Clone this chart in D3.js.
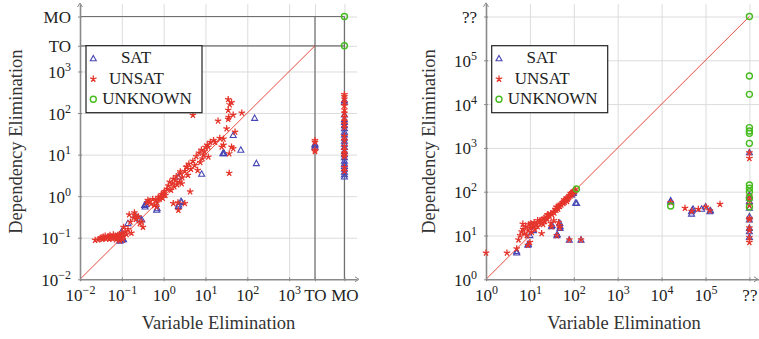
<!DOCTYPE html>
<html>
<head>
<meta charset="utf-8">
<script src="https://cdn.jsdelivr.net/npm/d3@7"></script>
<style>
  body { margin: 0; background: #fff; }
</style>
</head>
<body>
<div id="chart"></div>
<script>
// placeholder values for timeout / memout / unknown runs
var TO = 4150, MO = 21000, UNK = 1e6;

// ---- left plot: run time (s), [variable elimination, dependency elimination]
var leftSat = [
  [0.09, 0.083], [0.1, 0.088], [0.105, 0.095], [0.11, 0.09], [0.099, 0.14], [0.1, 0.12],
  [0.14, 0.22], [0.21, 0.34], [0.27, 0.28], [0.3, 0.27], [0.35, 0.6], [0.36, 0.55],
  [0.37, 0.63], [0.68, 0.46], [0.7, 0.5], [2.25, 0.57], [2.3, 0.62], [2.7, 0.71],
  [2.6, 0.75], [2.25, 2.9], [8.1, 3.4], [26, 10.5], [27, 10.8], [28, 10.6], [46, 29],
  [70, 12.8], [150, 75], [165, 6.1],
  [TO, 15], [TO, 16.5], [TO, 18],
  [MO, 2.9], [MO, 3.3], [MO, 3.8], [MO, 4.5], [MO, 5.2], [MO, 6], [MO, 7], [MO, 8.5],
  [MO, 10], [MO, 12], [MO, 15], [MO, 18], [MO, 21], [MO, 25], [MO, 30], [MO, 35],
  [MO, 42], [MO, 50], [MO, 60], [MO, 70], [MO, 90], [MO, 180], [MO, 200]
];
var leftUnsat = [
  [0.023, 0.088], [0.027, 0.09], [0.03, 0.095], [0.032, 0.1], [0.034, 0.092], [0.036, 0.105],
  [0.038, 0.098], [0.04, 0.11], [0.042, 0.095], [0.045, 0.1], [0.047, 0.108], [0.05, 0.092],
  [0.052, 0.115], [0.055, 0.1], [0.058, 0.105], [0.06, 0.095], [0.063, 0.118], [0.066, 0.1],
  [0.07, 0.11], [0.073, 0.09], [0.076, 0.105], [0.08, 0.115], [0.085, 0.095], [0.088, 0.12],
  [0.09, 0.085], [0.095, 0.1], [0.1, 0.13], [0.105, 0.09], [0.11, 0.11], [0.12, 0.14],
  [0.11, 0.18], [0.13, 0.12], [0.14, 0.16], [0.15, 0.36], [0.16, 0.24], [0.17, 0.13],
  [0.2, 0.4], [0.21, 0.35], [0.22, 0.28], [0.25, 0.32], [0.27, 0.22], [0.3, 0.24],
  [0.32, 0.18], [0.19, 0.3],
  [0.4, 0.7], [0.42, 0.8], [0.45, 0.75], [0.5, 0.65], [0.55, 0.85], [0.6, 0.6],
  [0.65, 0.8], [0.7, 0.7], [0.68, 0.55], [0.75, 0.95], [0.8, 0.85], [0.85, 1.0],
  [0.9, 1.1], [0.95, 0.9],
  [1.0, 1.2], [1.05, 1.3], [1.1, 1.05], [1.2, 1.5], [1.3, 1.8], [1.4, 2.2], [1.5, 1.4],
  [1.6, 2.0], [1.7, 2.6], [1.8, 1.7], [1.9, 2.4], [2.0, 3.0], [2.1, 1.9], [1.7, 0.67],
  [2.2, 0.7], [2.25, 0.46], [2.4, 2.2], [2.5, 3.5], [2.7, 2.0], [2.8, 2.8], [3.2, 0.67],
  [3.2, 4.0], [3.5, 5.0], [3.8, 3.2], [4.0, 6.0], [4.3, 1.28], [4.5, 4.5], [5.0, 7.0],
  [5.5, 5.5], [6.0, 9.0], [6.5, 4.2], [7.0, 11], [7.5, 6.5], [8.0, 13], [8.5, 8.0],
  [9.0, 10], [9.5, 12], [10, 15], [3.6, 5.1], [2.5, 3.9], [5.0, 89],
  [11, 17], [11.7, 8.8], [11.7, 15.4], [13, 20], [15.6, 22], [17, 20], [20, 65],
  [22, 25], [24.5, 15.4], [27, 24], [27, 17], [32, 42], [35, 212], [35, 118], [35, 71],
  [36, 80], [37, 10.6], [37, 3.6], [38, 160], [42, 180], [42, 15.4], [46, 90],
  [46, 14], [51, 35], [74, 101],
  [TO, 12], [TO, 13], [TO, 20], [TO, 22],
  [MO, 4], [MO, 5], [MO, 9], [MO, 10], [MO, 11], [MO, 13], [MO, 16], [MO, 22], [MO, 28],
  [MO, 45], [MO, 55], [MO, 65], [MO, 80], [MO, 100], [MO, 120], [MO, 150], [MO, 180],
  [MO, 220], [MO, 250], [MO, 280]
];
var leftUnknown = [[MO, MO], [MO, TO]];

// ---- right plot
var rightSat = [
  [5, 4], [5, 4.3], [9, 6], [9.2, 6.3], [10, 10], [12, 13], [31, 16], [32, 17], [41, 10],
  [42, 10.5], [48, 19], [48.5, 14.6], [49, 16], [79, 7.9], [146, 7.9], [110, 55],
  [116, 54], [97, 92], [100, 100], [90, 85],
  [16100, 59], [16100, 62], [48000, 31], [48000, 35], [50000, 38], [52000, 40],
  [81400, 40], [126000, 35], [130000, 37], [100000, 45],
  [UNK, 780], [UNK, 84], [UNK, 72], [UNK, 60], [UNK, 42], [UNK, 27], [UNK, 22.7],
  [UNK, 14.6], [UNK, 12.2], [UNK, 9.1]
];
var rightUnsat = [
  [1, 4], [3, 4], [5, 5], [5.5, 8], [6, 10], [6.5, 12.2], [6.9, 18.3], [7, 14], [7.5, 11],
  [8, 16], [8.5, 10], [9, 13], [9.5, 18], [10, 15], [10.5, 19], [11, 12], [11.5, 16],
  [12, 17], [12.5, 20], [13, 14], [14, 18], [15, 16], [16, 20], [17, 22], [18, 19],
  [18.5, 11.2], [19, 23], [20, 18], [21, 25], [22, 21], [24, 27], [25, 24], [26, 30],
  [28, 28], [30, 32], [31, 16], [32, 30], [34, 35], [36, 33], [38, 40], [40, 38],
  [42, 44], [44, 40], [46, 48], [48, 46], [50, 52], [52, 50], [55, 56], [58, 54],
  [60, 60], [62, 58], [65, 64], [68, 66], [70, 72], [72, 68], [75, 76], [78, 74],
  [80, 82], [84, 80], [88, 86], [92, 96], [96, 90], [100, 105], [105, 100], [110, 112],
  [9, 6], [10, 7], [41, 10], [48, 15], [79, 8], [146, 8], [30, 19], [35, 22], [45, 20],
  [47, 17], [15, 22], [25, 30], [40, 45], [60, 66], [70, 60], [85, 92],
  [16100, 57], [34100, 42], [48400, 36], [68600, 40], [102000, 45], [126000, 37],
  [214000, 52],
  [UNK, 580], [UNK, 780], [UNK, 7], [UNK, 9], [UNK, 13], [UNK, 15], [UNK, 23],
  [UNK, 25], [UNK, 49], [UNK, 65], [UNK, 80]
];
var rightUnknown = [
  [115, 115], [16100, 47], [UNK, UNK], [UNK, 43800], [UNK, 16700], [UNK, 2900],
  [UNK, 2430], [UNK, 2150], [UNK, 1270], [UNK, 142], [UNK, 120], [UNK, 100],
  [UNK, 71], [UNK, 45]
];

// ---- ticks
var leftTicks = [0.01, 0.1, 1, 10, 100, 1000, TO, MO];
var leftTickLabels = ["10^\u22122", "10^\u22121", "10^0", "10^1", "10^2", "10^3", "TO", "MO"];
var rightTicks = [1, 10, 100, 1e3, 1e4, 1e5, UNK];
var rightTickLabels = ["10^0", "10^1", "10^2", "10^3", "10^4", "10^5", "??"];
var legendNames = ["SAT", "UNSAT", "UNKNOWN"];

var colors = { sat: "#4646b4", unsat: "#e5352b", unknown: "#46bb1e" };
var serif = "'Liberation Serif', 'Times New Roman', 'DejaVu Serif', 'Noto Serif', Times, serif";

var svg = d3.select("#chart")
  .append("svg")
  .attr("width", 759)
  .attr("height", 339)
  .style("font-family", serif);

// marker shapes
function drawMark(g, kind) {
  if (kind == "sat") {
    g.append("path").attr("d", "M0,-3.3L3,2.1L-3,2.1Z")
      .attr("fill", "none").attr("stroke", colors.sat).attr("stroke-width", 1.1);
  } else if (kind == "unsat") {
    var d = "";
    for (var k = 0; k < 5; k++) {
      var a = -Math.PI / 2 + k * 2 * Math.PI / 5;
      d += "M0,0L" + (3.4 * Math.cos(a)).toFixed(2) + "," + (3.4 * Math.sin(a)).toFixed(2);
    }
    g.append("path").attr("d", d)
      .attr("fill", "none").attr("stroke", colors.unsat).attr("stroke-width", 1.3);
  } else {
    g.append("circle").attr("r", 3)
      .attr("fill", "none").attr("stroke", colors.unknown).attr("stroke-width", 1.4);
  }
}

function writeLabel(sel, label) {
  sel.text(null);
  if (label.indexOf("^") >= 0) {
    var parts = label.split("^");
    sel.append("tspan").text(parts[0]);
    sel.append("tspan").attr("dy", -7).attr("font-size", 12).text(parts[1]);
  } else {
    sel.text(label);
  }
}

function drawPanel(cfg) {
  var x = d3.scaleLog().domain(cfg.domain).range([cfg.left, cfg.right]);
  var y = d3.scaleLog().domain(cfg.domain).range([cfg.bottom, cfg.top]);
  var g = svg.append("g");

  // light grid
  g.append("g")
    .attr("transform", "translate(0," + cfg.bottom + ")")
    .call(d3.axisBottom(x).tickValues(cfg.ticks.slice(1)).tickSize(-(cfg.bottom - cfg.top)).tickFormat(""))
    .call(function (s) { s.select(".domain").remove(); s.selectAll("line").attr("stroke", "#dcdcdc"); });
  g.append("g")
    .attr("transform", "translate(" + cfg.left + ",0)")
    .call(d3.axisLeft(y).tickValues(cfg.ticks.slice(1)).tickSize(-(cfg.right - cfg.left)).tickFormat(""))
    .call(function (s) { s.select(".domain").remove(); s.selectAll("line").attr("stroke", "#dcdcdc"); });

  // dark TO / MO lines
  if (cfg.limits) {
    cfg.limits.forEach(function (v) {
      g.append("line").attr("x1", x(cfg.domain[0])).attr("x2", x(MO))
        .attr("y1", y(v)).attr("y2", y(v)).attr("stroke", "#707070").attr("stroke-width", 1.2);
      g.append("line").attr("x1", x(v)).attr("x2", x(v))
        .attr("y1", y(cfg.domain[0])).attr("y2", y(MO)).attr("stroke", "#707070").attr("stroke-width", 1.2);
    });
  }

  // diagonal
  g.append("line")
    .attr("x1", x(cfg.domain[0])).attr("y1", y(cfg.domain[0]))
    .attr("x2", x(cfg.diagEnd)).attr("y2", y(cfg.diagEnd))
    .attr("stroke", colors.unsat).attr("stroke-width", 0.9);

  // axes
  var xAxis = g.append("g")
    .attr("transform", "translate(0," + cfg.bottom + ")")
    .call(d3.axisBottom(x).tickValues(cfg.ticks).tickSizeInner(2).tickSizeOuter(0).tickPadding(9));
  var yAxis = g.append("g")
    .attr("transform", "translate(" + cfg.left + ",0)")
    .call(d3.axisLeft(y).tickValues(cfg.ticks).tickSizeInner(2).tickSizeOuter(0).tickPadding(9));
  [xAxis, yAxis].forEach(function (a) {
    a.attr("font-family", null);
    a.select(".domain").attr("stroke", "#8a8a8a").attr("stroke-width", 1.6);
    a.selectAll(".tick line").attr("stroke", "#8a8a8a");
    a.selectAll(".tick text").attr("font-size", 17).style("font-family", serif).attr("fill", "#222");
  });
  xAxis.selectAll(".tick line").attr("y1", -2).attr("y2", 2);
  yAxis.selectAll(".tick line").attr("x1", -2).attr("x2", 2);
  xAxis.selectAll(".tick text").attr("y", 22).attr("dy", 0)
    .each(function (d, i) { writeLabel(d3.select(this), cfg.labels[i]); });
  yAxis.selectAll(".tick text").attr("x", -9).attr("dy", 6)
    .each(function (d, i) { writeLabel(d3.select(this), cfg.labels[i]); });

  // axis arrows
  g.append("path")
    .attr("d", "M" + (cfg.arrowX - 4) + "," + (cfg.bottom - 2.5) + "L" + cfg.arrowX + "," + cfg.bottom + "L" + (cfg.arrowX - 4) + "," + (cfg.bottom + 2.5))
    .attr("fill", "none").attr("stroke", "#8a8a8a").attr("stroke-width", 1);
  g.append("path")
    .attr("d", "M" + (cfg.left - 2.5) + "," + (cfg.top + 3) + "L" + cfg.left + "," + (cfg.top - 1) + "L" + (cfg.left + 2.5) + "," + (cfg.top + 3))
    .attr("fill", "none").attr("stroke", "#8a8a8a").attr("stroke-width", 1);

  // points
  var series = [["sat", cfg.sat], ["unsat", cfg.unsat], ["unknown", cfg.unknown]];
  series.forEach(function (s) {
    g.append("g").selectAll("g")
      .data(s[1])
      .enter()
      .append("g")
      .attr("transform", function (d) { return "translate(" + x(d[0]) + "," + y(d[1]) + ")"; })
      .each(function () { drawMark(d3.select(this), s[0]); });
  });

  // legend
  var lg = g.append("g").attr("transform", "translate(" + cfg.legendX + ",45.7)");
  lg.append("rect").attr("width", 116).attr("height", 67)
    .attr("fill", "#fff").attr("stroke", "#222").attr("stroke-width", 1.2);
  var kinds = ["sat", "unsat", "unknown"];
  var centers = [50, 50.5, 61];
  kinds.forEach(function (k, i) {
    var m = lg.append("g").attr("transform", "translate(7.3," + (13 + i * 20.3) + ")");
    drawMark(m, k);
    lg.append("text").attr("x", centers[i]).attr("y", 17.8 + i * 20.3)
      .attr("text-anchor", "middle").attr("font-size", 17).attr("fill", "#222")
      .style("font-family", serif).text(legendNames[i]);
  });

  // axis titles
  g.append("text")
    .attr("x", cfg.titleX).attr("y", 329)
    .attr("text-anchor", "middle").attr("font-size", 18.5).attr("fill", "#333")
    .style("font-family", serif)
    .text("Variable Elimination");
  g.append("text")
    .attr("transform", "translate(" + cfg.yTitleX + "," + ((cfg.bottom + cfg.top) / 2) + ")rotate(-90)")
    .attr("text-anchor", "middle").attr("font-size", 18.5).attr("fill", "#333")
    .style("font-family", serif)
    .text("Dependency Elimination");
}

drawPanel({
  domain: [0.01, 42000], left: 80, right: 357, bottom: 279.3, top: 4,
  ticks: leftTicks, labels: leftTickLabels, limits: [TO, MO], diagEnd: TO,
  sat: leftSat, unsat: leftUnsat, unknown: leftUnknown,
  arrowX: 359, legendX: 86, titleX: 218.5, yTitleX: 22
});

drawPanel({
  domain: [1, Math.pow(10, 6.29)], left: 486, right: 486 + 6.29 * 43.9, bottom: 279.3, top: 3.8,
  ticks: rightTicks, labels: rightTickLabels, limits: null, diagEnd: UNK,
  sat: rightSat, unsat: rightUnsat, unknown: rightUnknown,
  arrowX: 758, legendX: 491.7, titleX: 624, yTitleX: 435
});
</script>
</body>
</html>
